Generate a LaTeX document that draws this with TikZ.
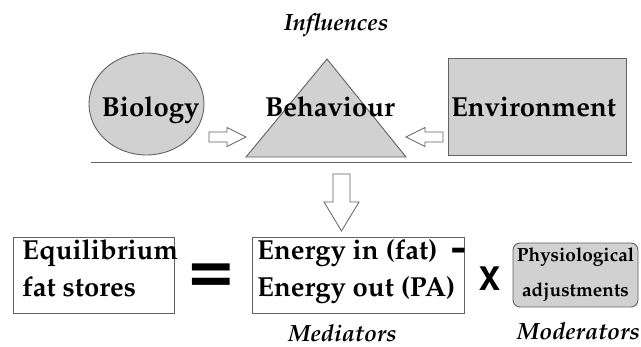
\documentclass[tikz,border=0pt]{standalone}
\usepackage[T1]{fontenc}
\renewcommand\rmdefault{ppl}
\usetikzlibrary{shapes.geometric}
\definecolor{shapefill}{gray}{0.82}
\definecolor{edge}{gray}{0.38}
\tikzset{
  big/.style={font=\fontsize{27.5}{32}\selectfont\bfseries, inner sep=0pt},
  small/.style={font=\fontsize{19}{23}\selectfont\bfseries, inner sep=0pt},
  label/.style={font=\fontsize{23.5}{27}\selectfont\bfseries\itshape, inner sep=0pt},
  shp/.style={draw=edge, fill=shapefill, line width=0.9pt},
  plainbox/.style={draw=edge, fill=white, line width=0.9pt, inner sep=0pt},
  barrow/.style={draw=edge, fill=white, line width=0.8pt, line join=miter},
}
\begin{document}
\begin{tikzpicture}[x=1pt,y=-1pt]
\useasboundingbox (0,0) rectangle (641,347);
% Influences
\node[label, anchor=base] (infl) at (336,31) {Influences};
% Biology circle
\node[shp, ellipse, minimum width=115pt, minimum height=102pt, inner sep=0pt] (bio) at (146.5,104) {};
\node[big, anchor=base] (biot) at (150.5,116.5) {Biology};
% Behaviour triangle
\coordinate (tapex) at (327,59);
\coordinate (tleft) at (246,157);
\coordinate (tright) at (406,157);
\draw[shp, line join=miter] (tleft) -- (tapex) -- (tright) -- cycle;
\node[big, anchor=base] (beh) at (330,116.5) {Behaviour};
% Environment rectangle
\node[shp, rectangle, minimum width=178pt, minimum height=97pt, inner sep=0pt] (env) at (537,106.5) {};
\node[big, anchor=base] (envt) at (533.5,116.5) {Environment};
% block arrows
\coordinate (a1) at (209,137);
\draw[barrow] (a1) ++(0,-5) -- ++(18,0) -- ++(0,-4.5) -- ++(19,9.5) -- ++(-19,9.5) -- ++(0,-4.5) -- ++(-18,0) -- cycle;
\coordinate (a2) at (443,137);
\draw[barrow] (a2) ++(0,-5) -- ++(-18,0) -- ++(0,-4.5) -- ++(-19,9.5) -- ++(19,9.5) -- ++(0,-4.5) -- ++(18,0) -- cycle;
% separator line
\coordinate (l1) at (91,162.5);
\coordinate (l2) at (632,162.5);
\draw[edge, line width=1.3pt] (l1) -- (l2);
% down arrow
\coordinate (a3) at (341.5,174);
\draw[barrow] (a3) ++(-8.5,0) -- ++(0,28) -- ++(-9,0) -- ++(17.5,29) -- ++(17.5,-29) -- ++(-9,0) -- ++(0,-28) -- cycle;
% Equilibrium box
\node[plainbox, minimum width=161pt, minimum height=76pt] (eq) at (93.5,275) {};
\node[big, anchor=base west] (eq1) at (22,260) {Equilibrium};
\node[big, anchor=base west] (eq2) at (22,297) {fat stores};
% equals sign
\node[inner sep=0pt] (eqs) at (211,275.5) {\scalebox{1.3}[1]{\fontfamily{phv}\fontseries{b}\fontsize{60}{60}\selectfont =}};
% Energy box
\node[plainbox, minimum width=212pt, minimum height=76pt] (en) at (358,275) {};
\node[big, anchor=base west] (en1) at (257,260) {Energy in (fat)};
\node[big, anchor=base west] (en2) at (257,297) {Energy out (PA)};
\node[inner sep=0pt] (minus) at (458.5,254) {\scalebox{1.25}[1.0]{\fontfamily{phv}\fontseries{b}\fontsize{36}{36}\selectfont -}};
% times
\node[inner sep=0pt, anchor=base] (times) at (489.5,290.5) {\fontfamily{phv}\fontseries{b}\fontsize{32.5}{32}\selectfont X};
% Physiological box
\node[shp, rectangle, rounded corners=7pt, minimum width=125pt, minimum height=64pt, inner sep=0pt] (phys) at (575.5,275) {};
\node[small, anchor=base] (ph1) at (575.5,262) {Physiological};
\node[small, anchor=base] (ph2) at (575.5,297) {adjustments};
% labels
\node[label, anchor=base] (med) at (342.5,342) {Mediators};
\node[label, anchor=base] (mod) at (578.5,339.5) {Moderators};
\end{tikzpicture}
\end{document}
